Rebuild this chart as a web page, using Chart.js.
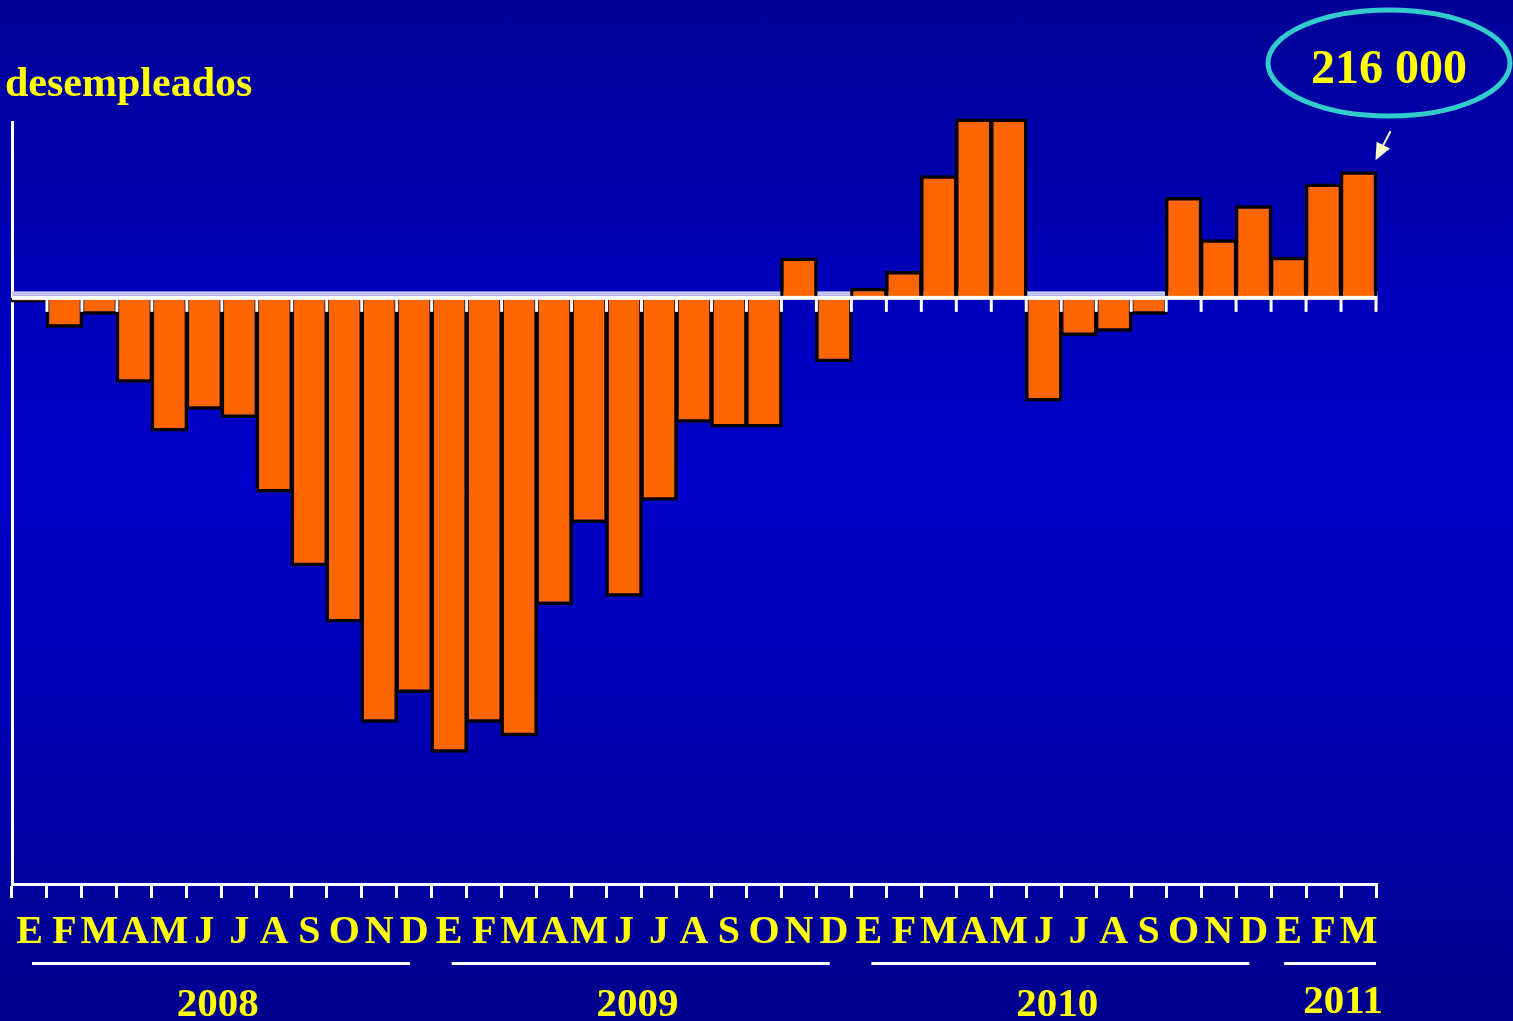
<!DOCTYPE html>
<html lang="es">
<head>
<meta charset="utf-8">
<title>Desempleados: variación anual</title>
<script src="https://cdn.jsdelivr.net/npm/chart.js@4.4.1/dist/chart.umd.min.js"></script>
<style>
  html, body {
    margin: 0; padding: 0; width: 1513px; height: 1021px; overflow: hidden;
    background: linear-gradient(to bottom, #000098 0%, #0000C4 36%, #0000C8 48%, #0000B0 75%, #00008C 100%);
  }
  canvas { display: block; }
</style>
</head>
<body>
<canvas id="chart" width="1513" height="1021"></canvas>
<script>
// Month initials (Spanish) and the years they belong to
const monthLetters = ['E', 'F', 'M', 'A', 'M', 'J', 'J', 'A', 'S', 'O', 'N', 'D'];
const years = ['2008', '2009', '2010', '2011'];
const monthsPerYear = [12, 12, 12, 3];

// Year-on-year change in the number of unemployed, thousands of people
const change = [
  -8, -51, -29, -145, -228, -191, -205, -332, -458, -554, -725, -674,
  -776, -725, -748, -524, -384, -510, -346, -213, -221, -221, 69, -110,
  17, 46, 209, 306, 306, -177, -65, -58, -29, 172, 100, 158,
  70, 195, 216
];

const axisTitle = 'desempleados';
const yMin = -1000;
const yMax = 300;

const monthLabels = [];
monthsPerYear.forEach(n => monthLabels.push(...monthLetters.slice(0, n)));

const serif = '"Liberation Serif", "Times New Roman", serif';
const yellow = '#FFFF00';

// Zero line: pale band under the bars, white rule and ticks over them
const zeroAxis = {
  id: 'zeroAxis',
  beforeDatasetsDraw(chart) {
    const { ctx, scales: { x, y } } = chart;
    const y0 = y.getPixelForValue(0);
    ctx.save();
    ctx.fillStyle = '#C6C6F2';
    ctx.fillRect(x.left, y0 - 6.5, x.right - x.left + 1.5, 4.5);
    ctx.restore();
  },
  afterDatasetsDraw(chart) {
    const { ctx, scales: { x, y } } = chart;
    const y0 = y.getPixelForValue(0);
    const step = (x.right - x.left) / change.length;
    ctx.save();
    ctx.fillStyle = '#FFFFFF';
    ctx.fillRect(x.left, y0 - 2, x.right - x.left + 1.5, 4);
    for (let k = 1; k <= change.length; k++) {
      const bx = x.left + k * step;
      ctx.fillRect(bx - 1.5, y0, 3, 14);
    }
    ctx.restore();
  }
};

// Title, year brackets and the callout for the latest month
const annotations = {
  id: 'annotations',
  afterDraw(chart) {
    const { ctx, scales: { x } } = chart;
    const step = (x.right - x.left) / change.length;
    ctx.save();

    ctx.fillStyle = yellow;
    ctx.textBaseline = 'alphabetic';
    ctx.textAlign = 'left';
    ctx.font = `bold 42px ${serif}`;
    ctx.fillText(axisTitle, 5, 96);

    let start = 0;
    years.forEach((yr, i) => {
      const n = monthsPerYear[i];
      const x0 = x.left + start * step;
      const full = n === 12;
      const x1 = x0 + (full ? 20 : 13);
      const x2 = Math.min(x0 + 398, x.right);
      ctx.strokeStyle = '#FFFFFF';
      ctx.lineWidth = 3;
      ctx.beginPath();
      ctx.moveTo(x1, 963.5);
      ctx.lineTo(x2, 963.5);
      ctx.stroke();
      ctx.fillStyle = yellow;
      ctx.font = `bold 41px ${serif}`;
      ctx.textAlign = 'center';
      if (full) {
        ctx.fillText(yr, x0 + 6 * step - 4, 1016);
      } else {
        ctx.fillText(yr, (x1 + x2) / 2 + 13, 1013);
      }
      start += n;
    });

    // callout ellipse with the latest value
    const last = change[change.length - 1];
    ctx.strokeStyle = '#33CCCC';
    ctx.lineWidth = 5;
    ctx.beginPath();
    ctx.ellipse(1389, 63, 121, 53, 0, 0, Math.PI * 2);
    ctx.stroke();
    ctx.fillStyle = yellow;
    ctx.font = `bold 48px ${serif}`;
    ctx.textAlign = 'center';
    ctx.fillText(`${last} 000`, 1389, 83);

    // arrow pointing at the last bar
    const bar = chart.getDatasetMeta(0).data[change.length - 1];
    const tipX = bar.x + 17;
    const tipY = bar.y - 11;
    const tailX = tipX + 15;
    const tailY = tipY - 29;
    const ang = Math.atan2(tipY - tailY, tipX - tailX);
    const head = 17;
    const half = 7.5;
    const bx = tipX - head * Math.cos(ang);
    const by = tipY - head * Math.sin(ang);
    ctx.strokeStyle = '#FFFFCC';
    ctx.fillStyle = '#FFFFCC';
    ctx.lineWidth = 2;
    ctx.beginPath();
    ctx.moveTo(tailX, tailY);
    ctx.lineTo(bx, by);
    ctx.stroke();
    ctx.beginPath();
    ctx.moveTo(tipX, tipY);
    ctx.lineTo(bx + half * Math.sin(ang), by - half * Math.cos(ang));
    ctx.lineTo(bx - half * Math.sin(ang), by + half * Math.cos(ang));
    ctx.closePath();
    ctx.fill();

    ctx.restore();
  }
};

new Chart(document.getElementById('chart'), {
  type: 'bar',
  data: {
    labels: monthLabels,
    datasets: [{
      data: change,
      backgroundColor: '#FF6600',
      borderColor: '#000000',
      borderWidth: 3.5,
      borderSkipped: 'start',
      barPercentage: 1.0715,
      categoryPercentage: 1,
      clip: false
    }]
  },
  options: {
    responsive: false,
    animation: false,
    layout: { padding: { top: 122, right: 137, bottom: 0, left: 0 } },
    plugins: {
      legend: { display: false },
      tooltip: { enabled: false },
      title: { display: false }
    },
    scales: {
      x: {
        type: 'category',
        offset: true,
        grid: {
          display: true,
          offset: true,
          drawOnChartArea: false,
          drawTicks: true,
          tickLength: 14,
          color: '#FFFFFF',
          lineWidth: 3
        },
        border: { display: true, color: '#FFFFFF', width: 3 },
        ticks: {
          color: yellow,
          font: { family: serif, weight: 'bold', size: 40 },
          padding: 11,
          autoSkip: false,
          maxRotation: 0,
          minRotation: 0
        },
        afterFit(scale) { scale.height = 137; }
      },
      y: {
        min: yMin,
        max: yMax,
        grid: { display: false },
        border: { display: true, color: '#FFFFFF', width: 3 },
        ticks: { display: false },
        afterFit(scale) { scale.width = 12; }
      }
    }
  },
  plugins: [zeroAxis, annotations]
});
</script>
</body>
</html>
